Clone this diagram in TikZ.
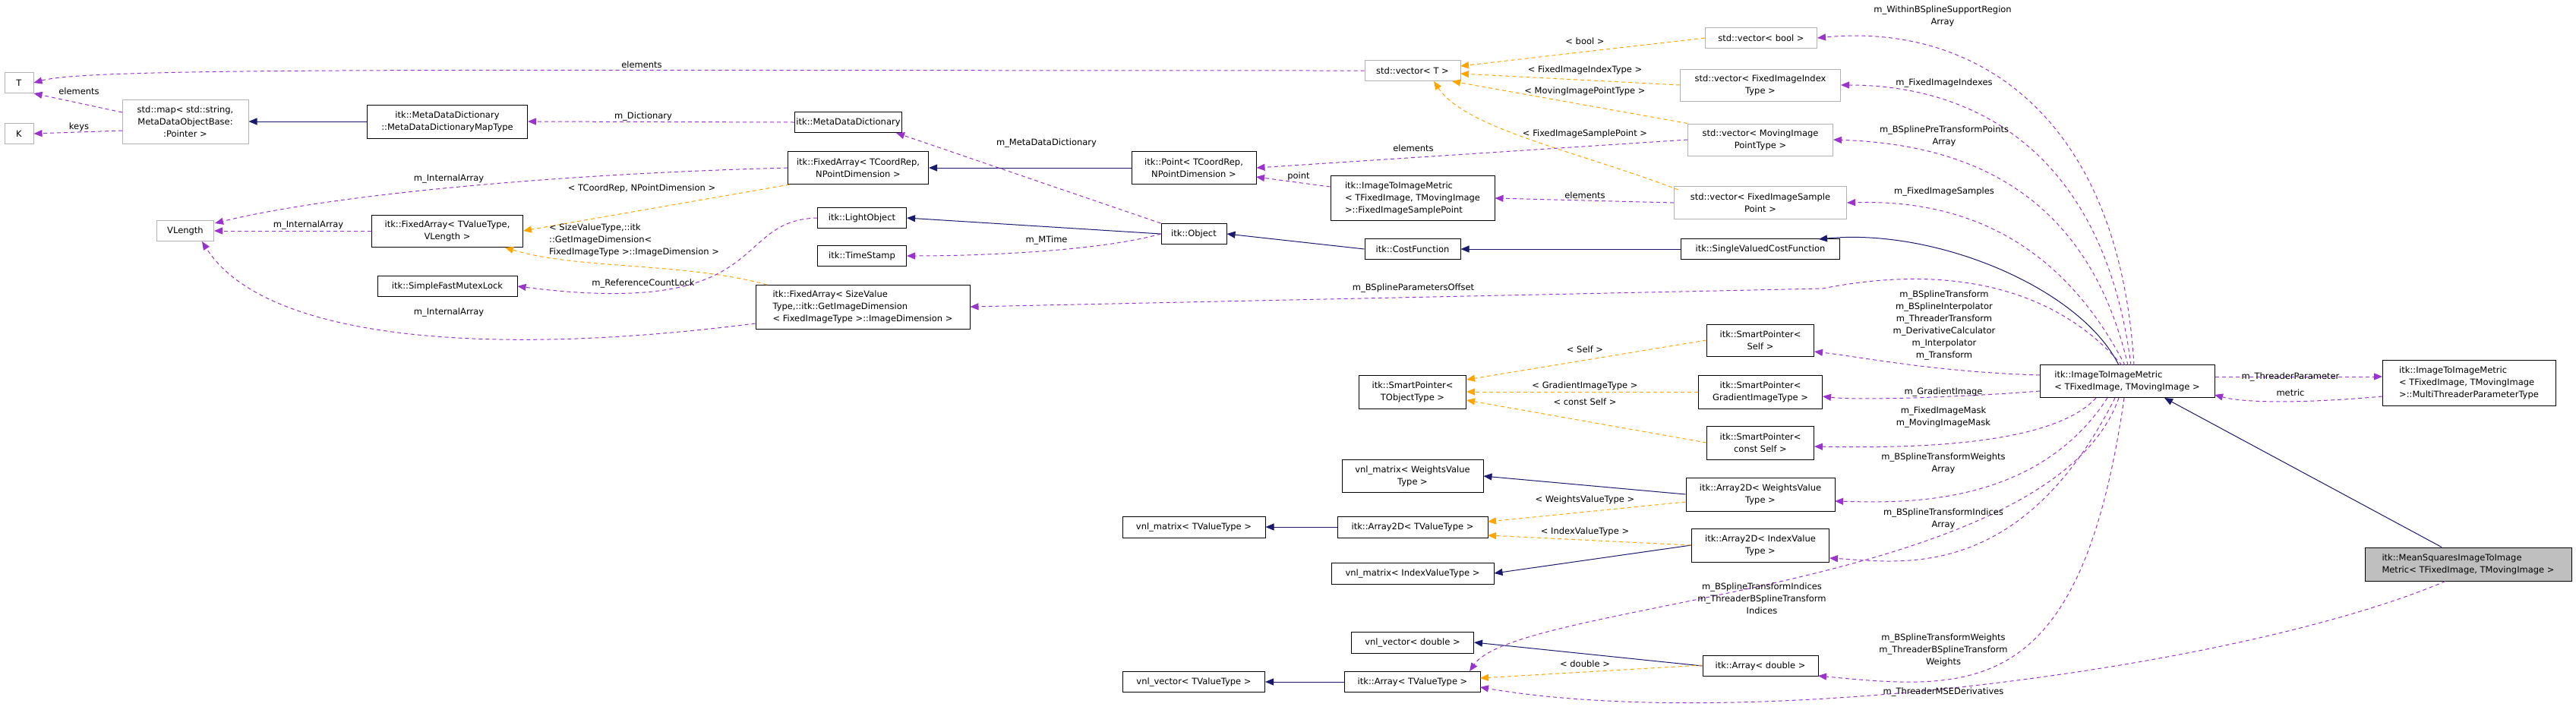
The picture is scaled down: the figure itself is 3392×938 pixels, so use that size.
\documentclass[tikz,border=0pt]{standalone}
\usepackage{fontspec}
\setmainfont{DejaVu Sans}
\usetikzlibrary{arrows.meta}
\definecolor{inh}{HTML}{191970}
\definecolor{use}{HTML}{9A32CD}
\definecolor{tpl}{HTML}{FFA500}
\newcommand{\fsz}{\fontsize{11.5}{16}\selectfont}
\begin{document}
\begin{tikzpicture}[x=1pt,y=-1pt,
  box/.style={draw=black,fill=white,line width=1pt,align=center,inner sep=2pt,font=\fsz},
  gbox/.style={box,draw=black!30},
  lbl/.style={font=\fsz,align=center,inner sep=0pt},
  tip/.style={-{Triangle[length=11pt,width=9pt]}},
  inhe/.style={tip,draw=inh,line width=1pt},
  usee/.style={tip,draw=use,line width=1pt,dash pattern=on 5pt off 4pt},
  tple/.style={tip,draw=tpl,line width=1pt,dash pattern=on 5pt off 4pt},
]
\useasboundingbox (0,0) rectangle (3392,938);
% nodes
\node[gbox,minimum width=38,minimum height=27] (T) at (25,109) {T};
\node[gbox,minimum width=38,minimum height=27] (K) at (25,176) {K};
\node[gbox,minimum width=166,minimum height=58] (map) at (244,160) {std::map\textless{} std::string,\\MetaDataObjectBase:\\:Pointer \textgreater};
\node[box,minimum width=211,minimum height=44] (mapt) at (589,160) {itk::MetaDataDictionary\\::MetaDataDictionaryMapType};
\node[box,minimum width=138,minimum height=27] (mdd) at (1117,161) {itk::MetaDataDictionary};
\node[box,minimum width=185,minimum height=43] (fac) at (1130,221) {itk::FixedArray\textless{} TCoordRep,\\NPointDimension \textgreater};
\node[gbox,minimum width=75,minimum height=27] (vl) at (244,304) {VLength};
\node[box,minimum width=199,minimum height=42] (fav) at (589,304) {itk::FixedArray\textless{} TValueType,\\VLength \textgreater};
\node[box,minimum width=117,minimum height=27] (lo) at (1135,287) {itk::LightObject};
\node[box,minimum width=117,minimum height=27] (ts) at (1135,337) {itk::TimeStamp};
\node[box,minimum width=184,minimum height=27] (sfml) at (589,377) {itk::SimpleFastMutexLock};
\node[box,minimum width=282,minimum height=58,align=left] (fas) at (1136,404) {itk::FixedArray\textless{} SizeValue\\Type,::itk::GetImageDimension\\\textless{} FixedImageType \textgreater::ImageDimension \textgreater};
\node[gbox,minimum width=126,minimum height=27] (vT) at (1860,93) {std::vector\textless{} T \textgreater};
\node[gbox,minimum width=147,minimum height=27] (vb) at (2319,50) {std::vector\textless{} bool \textgreater};
\node[gbox,minimum width=211,minimum height=42] (vfi) at (2318,112) {std::vector\textless{} FixedImageIndex\\Type \textgreater};
\node[gbox,minimum width=191,minimum height=42] (vmp) at (2318,184) {std::vector\textless{} MovingImage\\PointType \textgreater};
\node[gbox,minimum width=227,minimum height=43] (vfs) at (2318,267) {std::vector\textless{} FixedImageSample\\Point \textgreater};
\node[box,minimum width=209,minimum height=27] (svcf) at (2318,328) {itk::SingleValuedCostFunction};
\node[box,minimum width=164,minimum height=43] (pt) at (1572,221) {itk::Point\textless{} TCoordRep,\\NPointDimension \textgreater};
\node[box,minimum width=216,minimum height=59,align=left] (fisp) at (1860,261) {itk::ImageToImageMetric\\\textless{} TFixedImage, TMovingImage\\ \textgreater::FixedImageSamplePoint};
\node[box,minimum width=86,minimum height=27] (obj) at (1572,308) {itk::Object};
\node[box,minimum width=126,minimum height=27] (cf) at (1860,328) {itk::CostFunction};
\node[box,minimum width=141,minimum height=42] (sps) at (2318,448) {itk::SmartPointer\textless\\Self \textgreater};
\node[box,minimum width=141,minimum height=44] (spt) at (1860,516) {itk::SmartPointer\textless\\TObjectType \textgreater};
\node[box,minimum width=163,minimum height=44] (spg) at (2318,516) {itk::SmartPointer\textless\\GradientImageType \textgreater};
\node[box,minimum width=141,minimum height=44] (spc) at (2318,583) {itk::SmartPointer\textless\\const Self \textgreater};
\node[box,minimum width=186,minimum height=43] (vmw) at (1860,627) {vnl\_matrix\textless{} WeightsValue\\Type \textgreater};
\node[box,minimum width=196,minimum height=44] (a2w) at (2318,651) {itk::Array2D\textless{} WeightsValue\\Type \textgreater};
\node[box,minimum width=188,minimum height=28] (vmt) at (1572,694) {vnl\_matrix\textless{} TValueType \textgreater};
\node[box,minimum width=198,minimum height=28] (a2t) at (1860,694) {itk::Array2D\textless{} TValueType \textgreater};
\node[box,minimum width=181,minimum height=44] (a2i) at (2318,718) {itk::Array2D\textless{} IndexValue\\Type \textgreater};
\node[box,minimum width=214,minimum height=28] (vmi) at (1860,755) {vnl\_matrix\textless{} IndexValueType \textgreater};
\node[box,minimum width=161,minimum height=28] (vvd) at (1860,846) {vnl\_vector\textless{} double \textgreater};
\node[box,minimum width=152,minimum height=27] (ad) at (2318,877) {itk::Array\textless{} double \textgreater};
\node[box,minimum width=187,minimum height=27] (vvt) at (1572,898) {vnl\_vector\textless{} TValueType \textgreater};
\node[box,minimum width=179,minimum height=27] (at) at (1860,898) {itk::Array\textless{} TValueType \textgreater};
\node[box,minimum width=230,minimum height=43,align=left] (iim) at (2801,502) {itk::ImageToImageMetric\\\textless{} TFixedImage, TMovingImage \textgreater};
\node[box,minimum width=228,minimum height=60,align=left] (mt) at (3251,504) {itk::ImageToImageMetric\\\textless{} TFixedImage, TMovingImage\\ \textgreater::MultiThreaderParameterType};
\node[box,fill=black!25,minimum width=272,minimum height=44,align=left] (ms) at (3250,743) {itk::MeanSquaresImageToImage\\Metric\textless{} TFixedImage, TMovingImage \textgreater};

% inheritance
\draw[inhe] (mapt.west) -- (map.east);
\draw[inhe] (pt.west) -- (fac.east);
\draw[inhe] (obj.west) -- (lo.east);
\draw[inhe] (cf.west) -- (obj.east);
\draw[inhe] (svcf.west) -- (cf.east);
\draw[inhe] (2790,481) .. controls (2740,380) and (2550,300) .. (2395,315);
\draw[inhe] (ms.north) ++(-35,0) -- (2850,524);
\draw[inhe] (a2w.west) -- (vmw.east);
\draw[inhe] (a2t.west) -- (vmt.east);
\draw[inhe] (a2i.west) -- (vmi.east);
\draw[inhe] (ad.west) -- (vvd.east);
\draw[inhe] (at.west) -- (vvt.east);

% template
\draw[tple] (vb.west) -- (1923,87);
\draw[tple] (vfi.west) -- (1923,97);
\draw[tple] (vmp.north west) -- (1912,107);
\draw[tple] (2210,250) .. controls (2080,200) and (1930,170) .. (1888,107);
\draw[tple] (1040,243) -- (fav.east);
\draw[tple] (1010,375) .. controls (900,345) and (760,355) .. (665,326);
\draw[tple] (sps.west) -- (1931,500);
\draw[tple] (spg.west) -- (spt.east);
\draw[tple] (spc.west) -- (1931,527);
\draw[tple] (a2w.west) ++(0,10) -- (1959,687);
\draw[tple] (a2i.west) -- (1959,705);
\draw[tple] (ad.west) ++(0,-1) -- (1949,893);

% usage
\draw[usee] (vT.west) .. controls (600,93) and (120,88) .. (T.east);
\draw[usee] (161,148) -- (T.south east);
\draw[usee] (161,172) -- (K.east);
\draw[usee] (mdd.west) -- (mapt.east);
\draw[usee] (fac.west) .. controls (700,230) and (420,260) .. (283,294);
\draw[usee] (fav.west) -- (vl.east);
\draw[usee] (fas.west) ++(0,22) .. controls (650,470) and (350,450) .. (266,318);
\draw[usee] (lo.west) .. controls (960,290) and (1020,420) .. (sfml.east);
\draw[usee] (obj.north west) -- (1180,175);
\draw[usee] (obj.west) .. controls (1450,330) and (1300,337) .. (ts.east);
\draw[usee] (vmp.west) -- (pt.east);
\draw[usee] (fisp.west) ++(0,-15) -- (1654,233);
\draw[usee] (vfs.west) -- (fisp.east);
\draw[usee] (2810,481) .. controls (2790,150) and (2600,30) .. (vb.east);
\draw[usee] (2806,481) .. controls (2770,200) and (2600,112) .. (vfi.east);
\draw[usee] (2802,481) .. controls (2750,260) and (2600,190) .. (vmp.east);
\draw[usee] (2798,481) .. controls (2720,330) and (2600,262) .. (vfs.east);
\draw[usee] (2794,481) .. controls (2700,370) and (2550,350) .. (2400,380) -- (fas.east);
\draw[usee] (2686,494) .. controls (2550,490) and (2450,470) .. (2389,463);
\draw[usee] (2686,515) .. controls (2600,522) and (2450,528) .. (2400,522);
\draw[usee] (2760,524) .. controls (2700,590) and (2500,590) .. (2389,588);
\draw[usee] (2775,524) .. controls (2680,670) and (2500,662) .. (2416,660);
\draw[usee] (2785,524) .. controls (2660,770) and (2500,740) .. (2409,735);
\draw[usee] (2790,524) .. controls (2700,780) and (2000,790) .. (1935,884);
\draw[usee] (2797,524) .. controls (2740,920) and (2600,910) .. (2394,890);
\draw[usee] (iim.east) ++(0,-6) -- (3137,496);
\draw[usee] (3137,522) .. controls (3050,530) and (2960,532) .. (2916,520);
\draw[usee] (ms.south) ++(-30,0) .. controls (2950,880) and (2300,965) .. (1949,905);

% labels
\node[lbl] at (845,85) {elements};
\node[lbl] at (104,120) {elements};
\node[lbl] at (104,167) {keys};
\node[lbl] at (847,153) {m\_Dictionary};
\node[lbl] at (591,235) {m\_InternalArray};
\node[lbl] at (845,248) {\textless{} TCoordRep, NPointDimension \textgreater};
\node[lbl] at (406,296) {m\_InternalArray};
\node[lbl,align=left,anchor=west] at (723,316) {\textless{} SizeValueType,::itk\\::GetImageDimension\textless\\FixedImageType \textgreater::ImageDimension \textgreater};
\node[lbl] at (847,373) {m\_ReferenceCountLock};
\node[lbl] at (591,411) {m\_InternalArray};
\node[lbl] at (2087,54) {\textless{} bool \textgreater};
\node[lbl] at (2087,92) {\textless{} FixedImageIndexType \textgreater};
\node[lbl] at (2087,120) {\textless{} MovingImagePointType \textgreater};
\node[lbl] at (2087,176) {\textless{} FixedImageSamplePoint \textgreater};
\node[lbl] at (1861,195) {elements};
\node[lbl] at (1710,232) {point};
\node[lbl] at (2087,257) {elements};
\node[lbl] at (1378,188) {m\_MetaDataDictionary};
\node[lbl] at (1378,316) {m\_MTime};
\node[lbl] at (1861,379) {m\_BSplineParametersOffset};
\node[lbl] at (2558,21) {m\_WithinBSplineSupportRegion\\Array};
\node[lbl] at (2560,109) {m\_FixedImageIndexes};
\node[lbl] at (2560,179) {m\_BSplinePreTransformPoints\\Array};
\node[lbl] at (2560,252) {m\_FixedImageSamples};
\node[lbl] at (2560,428) {m\_BSplineTransform\\m\_BSplineInterpolator\\m\_ThreaderTransform\\m\_DerivativeCalculator\\m\_Interpolator\\m\_Transform};
\node[lbl] at (2087,460) {\textless{} Self \textgreater};
\node[lbl] at (2087,508) {\textless{} GradientImageType \textgreater};
\node[lbl] at (2087,529) {\textless{} const Self \textgreater};
\node[lbl] at (2559,516) {m\_GradientImage};
\node[lbl] at (2559,549) {m\_FixedImageMask\\m\_MovingImageMask};
\node[lbl] at (2559,610) {m\_BSplineTransformWeights\\Array};
\node[lbl] at (2087,658) {\textless{} WeightsValueType \textgreater};
\node[lbl] at (2559,683) {m\_BSplineTransformIndices\\Array};
\node[lbl] at (2087,700) {\textless{} IndexValueType \textgreater};
\node[lbl] at (2320,788) {m\_BSplineTransformIndices\\m\_ThreaderBSplineTransform\\Indices};
\node[lbl] at (2087,874) {\textless{} double \textgreater};
\node[lbl] at (2559,856) {m\_BSplineTransformWeights\\m\_ThreaderBSplineTransform\\Weights};
\node[lbl] at (2559,911) {m\_ThreaderMSEDerivatives};
\node[lbl] at (3016,496) {m\_ThreaderParameter};
\node[lbl] at (3016,517) {metric};
\end{tikzpicture}
\end{document}
